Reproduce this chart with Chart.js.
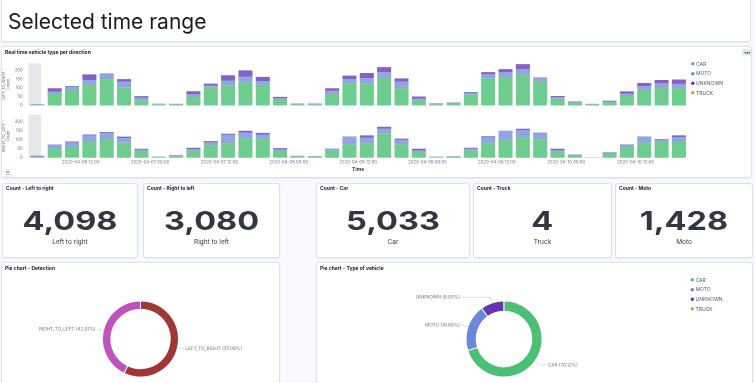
<!DOCTYPE html>
<html><head><meta charset="utf-8">
<script src="https://cdn.jsdelivr.net/npm/chart.js@4.4.1/dist/chart.umd.min.js"></script>
<style>
html,body{margin:0;padding:0;width:755px;height:383px;overflow:hidden;background:#f8f9fc;}
#root{position:absolute;left:0;top:0;width:1510px;height:766px;transform:scale(0.5);transform-origin:0 0;font-family:Inter,"Noto Sans",sans-serif;color:#1a1c21;}
.panel{position:absolute;background:#fff;border:2px solid #dde2ea;border-radius:6px;box-sizing:border-box;box-shadow:0 1px 3px rgba(0,0,0,0.06);overflow:hidden;}
.ptitle{position:absolute;left:6px;top:2px;font-size:10px;line-height:12px;font-weight:700;color:#1a1c21;white-space:nowrap;}
.big{position:absolute;left:0;right:0;top:47px;text-align:center;font-size:52px;line-height:1;font-weight:700;color:#343741;}
.big span{display:inline-block;transform:scaleX(1.25);}
.sub{position:absolute;left:0;right:0;top:107px;text-align:center;font-size:13px;line-height:16px;color:#343741;}
canvas{position:absolute;}
.legend{position:absolute;font-size:10px;line-height:19.4px;color:#535966;}
.legend div{position:relative;padding-left:10px;white-space:nowrap;}
.legend i{position:absolute;left:0;top:6.2px;width:7px;height:7px;border-radius:50%;}
#mainTitle{position:absolute;left:12px;top:28px;font-size:42px;line-height:1;font-weight:400;color:#1a1c21;white-space:nowrap;}
#dots{position:absolute;left:1480px;top:4px;width:20px;height:13px;background:#e3e8f0;border-radius:2px;font-size:9px;line-height:13px;text-align:center;color:#343741;letter-spacing:-1px;}
#listIcon{position:absolute;left:4px;top:244px;width:15px;height:15px;border:1px solid #d3dae6;border-radius:2px;box-sizing:border-box;}
#listIcon b{position:absolute;left:3px;width:7px;height:1px;background:#69707d;}
</style></head><body><div id="root">
<div class="panel" style="left:2px;top:-8px;width:1500px;height:92px;"><div id="mainTitle">Selected time range</div></div>
<div class="panel" id="barPanel" style="left:2px;top:92px;width:1502px;height:264px;">
  <div class="ptitle" style="top:3px;">Real time vehicle type per direction</div>
  <div id="dots">•••</div>
  <div id="listIcon"><b style="top:3px"></b><b style="top:6px"></b><b style="top:9px"></b></div>
</div>
<canvas id="barTop" width="1390" height="108" style="left:0;top:112px;width:1390px;height:108px;"></canvas>
<canvas id="barBottom" width="1390" height="130" style="left:0;top:220px;width:1390px;height:130px;"></canvas>
<div class="legend" id="barLegend" style="left:1382px;top:118px;"></div>
<div id="metrics"></div>
<div class="panel" style="left:2px;top:524px;width:558px;height:260px;"><div class="ptitle" style="top:2.6px;">Pie chart - Detection</div></div>
<div class="panel" style="left:632px;top:524px;width:874px;height:260px;"><div class="ptitle" style="top:2.6px;">Pie chart - Type of vehicle</div></div>
<canvas id="pieDir" width="558" height="226" style="left:2px;top:540px;width:558px;height:226px;"></canvas>
<canvas id="pieType" width="874" height="226" style="left:632px;top:540px;width:874px;height:226px;"></canvas>
<div class="legend" id="pieLegend" style="left:1381px;top:550px;"></div>
</div>
<script>
// ---------- DATA ----------
const buckets = ["2020-04-06 03:00","2020-04-06 06:00","2020-04-06 09:00","2020-04-06 12:00","2020-04-06 15:00","2020-04-06 18:00","2020-04-06 21:00",
"2020-04-07 00:00","2020-04-07 03:00","2020-04-07 06:00","2020-04-07 09:00","2020-04-07 12:00","2020-04-07 15:00","2020-04-07 18:00","2020-04-07 21:00",
"2020-04-08 00:00","2020-04-08 03:00","2020-04-08 06:00","2020-04-08 09:00","2020-04-08 12:00","2020-04-08 15:00","2020-04-08 18:00","2020-04-08 21:00",
"2020-04-09 00:00","2020-04-09 03:00","2020-04-09 06:00","2020-04-09 09:00","2020-04-09 12:00","2020-04-09 15:00","2020-04-09 18:00","2020-04-09 21:00",
"2020-04-10 00:00","2020-04-10 03:00","2020-04-10 06:00","2020-04-10 09:00","2020-04-10 12:00","2020-04-10 15:00","2020-04-10 18:00"];
const vehicleTypes = ["CAR","MOTO","UNKNOWN","TRUCK"];
const directions = ["LEFT_TO_RIGHT","RIGHT_TO_LEFT"];
// LEFT_TO_RIGHT per bucket
const carLTR   = [2,68,88,119,150,104,30,5,5,48,101,115,130,119,34,5,6,65,124,124,157,97,31,5,9,62,153,160,174,135,38,14,6,18,57,88,102,97];
const motoLTR  = [4,10,18,26,29,32,14,3,4,17,12,27,35,19,7,4,3,18,26,32,33,39,9,4,7,9,26,29,32,21,9,5,2,5,10,22,24,26];
const unkLTR   = [1,20,4,32,3,14,9,2,1,16,11,30,35,25,8,2,2,15,20,29,28,18,11,3,2,5,11,18,29,3,7,4,1,4,13,18,19,25];
const truckLTR = [0,0,1,0,0,0,0,0,0,0,0,0,0,0,0,0,0,0,0,0,0,0,0,0,0,0,0,0,0,0,0,0,0,0,0,0,0,0];
// RIGHT_TO_LEFT per bucket
const carRTL   = [2,51,62,90,104,83,37,3,8,37,69,80,106,106,37,5,4,41,74,81,134,74,32,2,7,41,81,99,113,103,34,12,1,23,62,83,88,90];
const motoRTL  = [6,18,23,34,34,25,7,3,5,11,16,47,34,23,9,4,4,9,41,31,27,25,9,4,2,10,34,48,41,32,7,4,1,5,10,32,11,25];
const unkRTL   = [3,4,5,5,5,9,6,1,1,7,7,6,10,9,7,2,1,1,2,12,11,7,9,1,0,4,4,3,7,4,9,2,0,2,2,2,4,9];
const truckRTL = [0,0,0,0,0,0,0,0,0,0,0,0,0,0,0,0,0,0,0,0,0,0,0,0,0,0,0,0,0,1,0,0,0,0,0,0,0,0];
const yTicksMax = 200, yAxisMax = 240, yStep = 50;
const partialBucket = [0, 0.72]; // shaded partial-bucket span, in bucket units

const metricTitles = ["Count - Left to right","Count - Right to left","Count - Car","Count - Truck","Count - Moto"];
const metricValues = [4098, 3080, 5033, 4, 1428];
const metricLabels = ["Left to right","Right to left","Car","Truck","Moto"];

const directionCounts = [4098, 3080];           // LEFT_TO_RIGHT, RIGHT_TO_LEFT
const vehicleCounts = [5033, 1428, 713, 4];     // CAR, MOTO, UNKNOWN, TRUCK

// ---------- STYLE ----------
const vehicleColors = ["#4bbf73","#6b87d8","#6434b4","#e7934a"];
const vehicleBarColors = ["rgba(75,191,115,0.8)","rgba(107,135,216,0.75)","rgba(100,52,180,0.78)","rgba(231,147,74,0.9)"];
const directionColors = ["#a13636","#c052c0"];
const FONT = "Inter";
Chart.defaults.font.family = FONT;

// ---------- HTML pieces ----------
const metricBoxes = [[4,272],[286,274],[632,308],[946,278],[1230,276]];
const mDiv = document.getElementById('metrics');
metricTitles.forEach((t,i)=>{
  const p = document.createElement('div');
  p.className='panel';
  p.style.cssText = `left:${metricBoxes[i][0]}px;top:366px;width:${metricBoxes[i][1]}px;height:150px;`;
  p.innerHTML = `<div class="ptitle">${t}</div><div class="big"><span>${metricValues[i].toLocaleString('en-US')}</span></div><div class="sub">${metricLabels[i]}</div>`;
  mDiv.appendChild(p);
});
function buildLegend(id){
  document.getElementById(id).innerHTML = vehicleTypes.map((n,i)=>`<div><i style="background:${vehicleColors[i]}"></i>${n}</div>`).join('');
}
buildLegend('barLegend'); buildLegend('pieLegend');

// ---------- BAR CHARTS ----------
const tickIdx = buckets.map((b,i)=>(/ (00|12):00$/.test(b)?i:-1)).filter(i=>i>=0);
const toXY = arr => arr.map((v,i)=>({x:i+0.5, y:v}));
const partialPlugin = {
  id:'partial',
  beforeDatasetsDraw(c){
    const {ctx, chartArea:a, scales:{x}} = c;
    const x0 = x.getPixelForValue(partialBucket[0]), x1 = x.getPixelForValue(partialBucket[1]);
    ctx.save(); ctx.fillStyle='#e6e7ea'; ctx.fillRect(x0, a.top, x1-x0, a.bottom-a.top); ctx.restore();
  }
};
function barChart(id, series, yTitle, bottom){
  const ds = series.map((s,i)=>({label:vehicleTypes[i], data:toXY(s), backgroundColor:vehicleBarColors[i], borderWidth:0,
     barPercentage:0.9, categoryPercentage:0.9, stack:'s'}));
  return new Chart(document.getElementById(id), {
    type:'bar',
    data:{datasets:ds},
    plugins:[partialPlugin],
    options:{
      responsive:false, animation:false,
      layout:{padding:{left:0,right:14.8, top: bottom?5.4:14.6, bottom: bottom?0:3.4}},
      plugins:{legend:{display:false}, tooltip:{enabled:false}},
      scales:{
        x:{type:'linear', min:0, max:buckets.length, stacked:true, display:bottom, offset:false,
           afterBuildTicks(s){ s.ticks = tickIdx.map(v=>({value:v})); },
           afterFit(s){ if (bottom) s.height = 34.6; },
           grid:{offset:false, drawOnChartArea:false, drawTicks:true, tickLength:3, color:'#c9ced6'},
           border:{display:true, color:'#e4e7ec'},
           ticks:{autoSkip:false, maxRotation:0, padding:1, font:{size:8.6}, color:'#69707d',
                  callback:(v)=> buckets[v] || ''},
           title:{display:true, text:'Time', font:{size:10, weight:'bold'}, color:'#343741', padding:{top:0,bottom:5}}
        },
        y:{stacked:true, min:0, max:yAxisMax,
           afterFit(s){ s.width = 57.4; },
           grid:{display:false}, border:{display:false},
           ticks:{stepSize:yStep, padding:4, font:{size:8.4}, color:'#69707d',
                  callback:v=> v<=yTicksMax ? v : ''},
           title:{display:true, text:yTitle, font:{size:7.6}, color:'#5a606c', padding:{top:3,bottom:0}}
        }
      }
    }
  });
}
barChart('barTop', [carLTR,motoLTR,unkLTR,truckLTR], [directions[0]+' -','Count'], false);
barChart('barBottom', [carRTL,motoRTL,unkRTL,truckRTL], [directions[1]+' -','Count'], true);

// ---------- DOUGHNUTS ----------
const outsideLabels = {
  id:'outsideLabels',
  afterDatasetsDraw(c){
    const {ctx} = c;
    const meta = c.getDatasetMeta(0);
    const vals = c.data.datasets[0].data;
    const total = vals.reduce((a,b)=>a+b,0);
    ctx.save();
    ctx.font = `9.3px ${FONT}`; ctx.fillStyle = '#69707d'; ctx.strokeStyle = '#c4c9d1'; ctx.lineWidth = 1.2;
    ctx.textBaseline = 'middle';
    meta.data.forEach((arc,i)=>{
      const pct = vals[i]/total;
      if (pct < 0.01) return;
      const p = arc.getProps(['x','y','startAngle','endAngle','outerRadius'], true);
      const mid = (p.startAngle+p.endAngle)/2;
      const R = p.outerRadius;
      const cx = Math.cos(mid), sy = Math.sin(mid);
      const x0 = p.x + cx*R, y0 = p.y + sy*R;
      const x1 = p.x + cx*(R+12), y1 = p.y + sy*(R+12);
      const right = cx >= 0;
      const lineEnd = right ? Math.max(x1, p.x+R+8) : Math.min(x1, p.x-R-8);
      ctx.beginPath(); ctx.moveTo(x0,y0); ctx.lineTo(x1,y1); ctx.lineTo(lineEnd,y1); ctx.stroke();
      ctx.textAlign = right ? 'left' : 'right';
      const label = `${c.data.labels[i]} (${(pct*100).toFixed(2)}%)`;
      ctx.fillText(label, lineEnd + (right?4:-4), y1);
    });
    ctx.restore();
  }
};
function doughnut(id, labels, values, colors, cutout, pad){
  return new Chart(document.getElementById(id), {
    type:'doughnut',
    data:{labels, datasets:[{data:values, backgroundColor:colors, borderColor:'#ffffff', borderWidth:2}]},
    plugins:[outsideLabels],
    options:{responsive:false, animation:false, cutout,
      layout:{padding:pad},
      plugins:{legend:{display:false}, tooltip:{enabled:false}}}
  });
}
doughnut('pieDir', directions, directionCounts, directionColors, '78%', {left:202,right:202,top:61,bottom:11});
doughnut('pieType', vehicleTypes, vehicleCounts, vehicleColors, '73%', {left:298,right:420,top:61,bottom:11});
</script>
</body></html>
